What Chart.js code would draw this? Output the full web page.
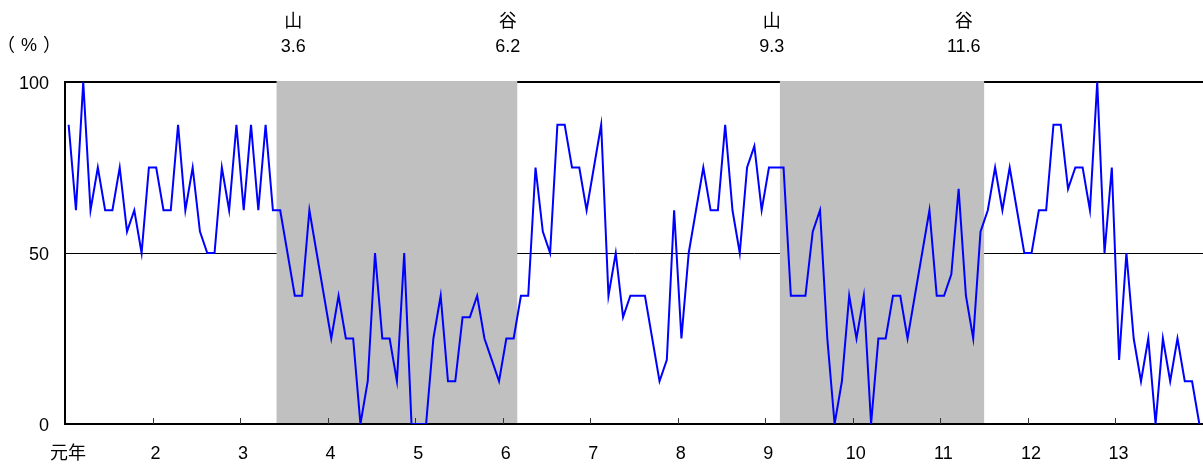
<!DOCTYPE html>
<html lang="ja">
<head>
<meta charset="UTF-8">
<title>DI</title>
<script src="https://cdn.jsdelivr.net/npm/chart.js"></script>
<style>
  body { margin: 0; background: #fff; }
  canvas { display: block; }
</style>
</head>
<body>
<canvas id="di-chart" width="1203" height="464"></canvas>
<script>
// monthly index, 元年1月 .. 13年12月 (156 months)
const diValues = [
  87.5, 62.5, 100, 62.5, 75, 62.5, 62.5, 75, 56.25, 62.5, 50, 75,
  75, 62.5, 62.5, 87.5, 62.5, 75, 56.25, 50, 50, 75, 62.5, 87.5,
  62.5, 87.5, 62.5, 87.5, 62.5, 62.5, 50, 37.5, 37.5, 62.5, 50, 37.5,
  25, 37.5, 25, 25, 0, 12.5, 50, 25, 25, 12.5, 50, 0,
  0, 0, 25, 37.5, 12.5, 12.5, 31.25, 31.25, 37.5, 25, 18.75, 12.5,
  25, 25, 37.5, 37.5, 75, 56.25, 50, 87.5, 87.5, 75, 75, 62.5,
  75, 87.5, 37.5, 50, 31.25, 37.5, 37.5, 37.5, 25, 12.5, 18.75, 62.5,
  25, 50, 62.5, 75, 62.5, 62.5, 87.5, 62.5, 50, 75, 81.25, 62.5,
  75, 75, 75, 37.5, 37.5, 37.5, 56.25, 62.5, 25, 0, 12.5, 37.5,
  25, 37.5, 0, 25, 25, 37.5, 37.5, 25, 37.5, 50, 62.5, 37.5,
  37.5, 43.75, 68.75, 37.5, 25, 56.25, 62.5, 75, 62.5, 75, 62.5, 50,
  50, 62.5, 62.5, 87.5, 87.5, 68.75, 75, 75, 62.5, 100, 50, 75,
  18.75, 50, 25, 12.5, 25, 0, 25, 12.5, 25, 12.5, 12.5, 0
];
const yearLabels = ['元年', '2', '3', '4', '5', '6', '7', '8', '9', '10', '11', '12', '13'];
const yTicks = [0, 50, 100];
// recession periods in month units (0 = start of 元年)
const recessions = [[29, 62], [98, 126]];
const turnMarks = ['山', '谷', '山', '谷'];
const turnDates = ['3.6', '6.2', '9.3', '11.6'];
const turnAt = [31.3, 60.7, 96.9, 123.2];

const FONT = '"Liberation Sans", "Noto Sans CJK JP", sans-serif';
const CJK = '"Noto Sans CJK JP", sans-serif';

const cyclePlugin = {
  id: 'cycle',
  beforeDatasetsDraw(chart) {
    const { ctx, chartArea: { top, bottom, left, right }, scales: { x } } = chart;
    ctx.save();
    ctx.fillStyle = '#c0c0c0';
    recessions.forEach(([s, e]) => {
      const x0 = x.getPixelForValue(s);
      const x1 = x.getPixelForValue(e);
      ctx.fillRect(x0, top - 1, x1 - x0, bottom - top + 1);
    });
    // bottom axis and inner tick marks sit above the shading
    ctx.strokeStyle = '#000';
    ctx.lineWidth = 2;
    ctx.beginPath();
    ctx.moveTo(left, bottom);
    ctx.lineTo(right, bottom);
    ctx.stroke();
    ctx.lineWidth = 1;
    ctx.strokeStyle = '#333';
    for (let k = 1; k < yearLabels.length; k++) {
      const px = Math.round(x.getPixelForValue(k * 12)) + 0.5;
      ctx.beginPath();
      ctx.moveTo(px, bottom);
      ctx.lineTo(px, bottom - 6);
      ctx.stroke();
    }
    ctx.restore();
  },
  afterDraw(chart) {
    const { ctx, scales: { x } } = chart;
    ctx.save();
    ctx.fillStyle = '#000';
    ctx.textAlign = 'center';
    ctx.textBaseline = 'middle';
    turnMarks.forEach((m, k) => {
      const px = x.getPixelForValue(turnAt[k]);
      ctx.font = '18px ' + CJK;
      ctx.fillText(m, px, 20);
      ctx.font = '18px ' + FONT;
      ctx.fillText(turnDates[k], px, 47);
    });
    ctx.font = '18px ' + FONT;
    ctx.letterSpacing = '6px';
    ctx.fillText('（%）', 32, 46);
    ctx.restore();
  }
};

new Chart(document.getElementById('di-chart'), {
  type: 'line',
  data: {
    datasets: [{
      data: diValues.map((v, i) => ({ x: i + 0.5, y: v })),
      borderColor: '#0000ff',
      borderWidth: 2,
      pointRadius: 0,
      tension: 0,
      fill: false
    }]
  },
  options: {
    responsive: false,
    animation: false,
    devicePixelRatio: 1,
    layout: { padding: { top: 82, right: 0, left: 0, bottom: 0 } },
    plugins: { legend: { display: false }, tooltip: { enabled: false } },
    scales: {
      x: {
        type: 'linear',
        min: 0,
        max: yearLabels.length * 12,
        afterBuildTicks: s => { s.ticks = yearLabels.map((_, k) => ({ value: k * 12 })); },
        afterFit: s => { s.height = 40; },
        grid: { display: false },
        border: { display: true, color: '#000', width: 2 },
        ticks: {
          autoSkip: false,
          maxRotation: 0,
          padding: 11,
          labelOffset: 3,
          color: '#000',
          font: { size: 18, family: FONT },
          callback: v => yearLabels[v / 12]
        }
      },
      y: {
        min: 0,
        max: 100,
        afterBuildTicks: s => { s.ticks = yTicks.map(v => ({ value: v })); },
        afterFit: s => { s.width = 65; },
        grid: {
          drawTicks: false,
          color: c => (c.tick && c.tick.value > 0 ? '#000' : 'rgba(0,0,0,0)'),
          lineWidth: c => (c.tick && c.tick.value === 100 ? 2 : 1)
        },
        border: { display: true, color: '#000', width: 2 },
        ticks: {
          padding: 16,
          labelOffset: 2,
          color: '#000',
          font: { size: 18, family: FONT }
        }
      }
    }
  },
  plugins: [cyclePlugin]
});
</script>
</body>
</html>
